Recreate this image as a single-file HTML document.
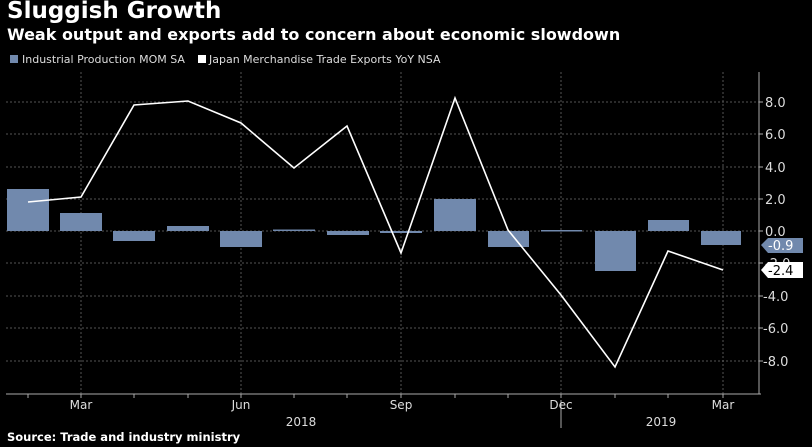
<!DOCTYPE html>
<html><head><meta charset="utf-8"><style>
html,body{margin:0;padding:0;background:#000;}
body{width:812px;height:447px;overflow:hidden;position:relative;font-family:"DejaVu Sans","Liberation Sans",sans-serif;color:#fff;}
.t{position:absolute;left:7px;top:-2px;font-size:23px;font-weight:bold;}
.s{position:absolute;left:7px;top:25px;font-size:16px;font-weight:bold;}
.src{position:absolute;left:7px;top:430px;font-size:11.5px;font-weight:bold;}
</style></head><body>
<div class="t">Sluggish Growth</div>
<div class="s">Weak output and exports add to concern about economic slowdown</div>
<svg width="812" height="447" style="position:absolute;left:0;top:0" font-family="DejaVu Sans, Liberation Sans, sans-serif">
<rect x="10" y="55" width="8" height="8" fill="#7189ad"/>
<text x="22" y="63" font-size="11" fill="#ddd">Industrial Production MOM SA</text>
<rect x="198" y="55" width="8" height="8" fill="#fff"/>
<text x="209" y="63" font-size="11" fill="#ddd">Japan Merchandise Trade Exports YoY NSA</text>
<g stroke="#555" stroke-dasharray="2,2" stroke-width="1">
<line x1="6" x2="759" y1="102" y2="102"/><line x1="6" x2="759" y1="134" y2="134"/><line x1="6" x2="759" y1="167" y2="167"/><line x1="6" x2="759" y1="199" y2="199"/><line x1="6" x2="759" y1="231" y2="231"/><line x1="6" x2="759" y1="263" y2="263"/><line x1="6" x2="759" y1="296" y2="296"/><line x1="6" x2="759" y1="328" y2="328"/><line x1="6" x2="759" y1="361" y2="361"/>
<line x1="81" x2="81" y1="72" y2="394"/><line x1="241" x2="241" y1="72" y2="394"/><line x1="401" x2="401" y1="72" y2="394"/><line x1="561" x2="561" y1="72" y2="394"/><line x1="723" x2="723" y1="72" y2="394"/>
</g>
<g fill="#7189ad">
<rect x="7" y="189" width="42" height="42"/>
<rect x="60" y="213" width="42" height="18"/>
<rect x="113" y="231" width="42" height="10"/>
<rect x="167" y="226" width="42" height="5"/>
<rect x="220" y="231" width="42" height="16"/>
<rect x="273" y="229.5" width="42" height="1.5"/>
<rect x="327" y="231" width="42" height="4"/>
<rect x="380" y="231" width="42" height="2"/>
<rect x="434" y="199" width="42" height="32"/>
<rect x="488" y="231" width="41" height="16"/>
<rect x="541" y="230" width="41" height="1.5"/>
<rect x="595" y="231" width="41" height="40"/>
<rect x="648" y="220" width="41" height="11"/>
<rect x="701" y="231" width="40" height="14"/>
</g>
<polyline fill="none" stroke="#fff" stroke-width="1.6" points="28,202 81,197 134,105 188,101 241,123 294,168 347,126 401,253 455,98 508,230 561,295 615,367 668,251 723,270"/>
<line x1="759" y1="72" x2="759" y2="394" stroke="#aaa"/>
<line x1="6" y1="394" x2="761" y2="394" stroke="#aaa"/>
<g stroke="#aaa">
<line x1="759" x2="763" y1="102" y2="102"/><line x1="759" x2="763" y1="134" y2="134"/><line x1="759" x2="763" y1="167" y2="167"/><line x1="759" x2="763" y1="199" y2="199"/><line x1="759" x2="763" y1="231" y2="231"/><line x1="759" x2="763" y1="263" y2="263"/><line x1="759" x2="763" y1="296" y2="296"/><line x1="759" x2="763" y1="328" y2="328"/><line x1="759" x2="763" y1="361" y2="361"/>
<line x1="28" x2="28" y1="394" y2="398"/><line x1="81" x2="81" y1="394" y2="398"/><line x1="134" x2="134" y1="394" y2="398"/><line x1="188" x2="188" y1="394" y2="398"/><line x1="241" x2="241" y1="394" y2="398"/><line x1="294" x2="294" y1="394" y2="398"/><line x1="347" x2="347" y1="394" y2="398"/><line x1="401" x2="401" y1="394" y2="398"/><line x1="455" x2="455" y1="394" y2="398"/><line x1="508" x2="508" y1="394" y2="398"/><line x1="561" x2="561" y1="394" y2="398"/><line x1="615" x2="615" y1="394" y2="398"/><line x1="668" x2="668" y1="394" y2="398"/><line x1="723" x2="723" y1="394" y2="398"/>
<line x1="561" x2="561" y1="400" y2="428"/>
</g>
<g font-size="13" fill="#ddd">
<text x="765" y="107">8.0</text><text x="765" y="139">6.0</text><text x="765" y="172">4.0</text><text x="765" y="204">2.0</text><text x="765" y="236">0.0</text><text x="765" y="268">-2.0</text><text x="763" y="301">-4.0</text><text x="763" y="333">-6.0</text><text x="763" y="366">-8.0</text>
</g>
<polygon points="761,245 768,238 803,238 803,253 768,253" fill="#7189ad"/>
<text x="768" y="250" font-size="13" fill="#fff">-0.9</text>
<polygon points="761,270 768,262 803,262 803,278 768,278" fill="#fff"/>
<text x="768" y="275" font-size="13" fill="#000">-2.4</text>
<g font-size="12" fill="#ddd" text-anchor="middle">
<text x="81" y="409">Mar</text><text x="241" y="409">Jun</text><text x="401" y="409">Sep</text><text x="561" y="409">Dec</text><text x="723" y="409">Mar</text>
<text x="301" y="426">2018</text><text x="661" y="426">2019</text>
</g>
</svg>
<div class="src">Source: Trade and industry ministry</div>
</body></html>
